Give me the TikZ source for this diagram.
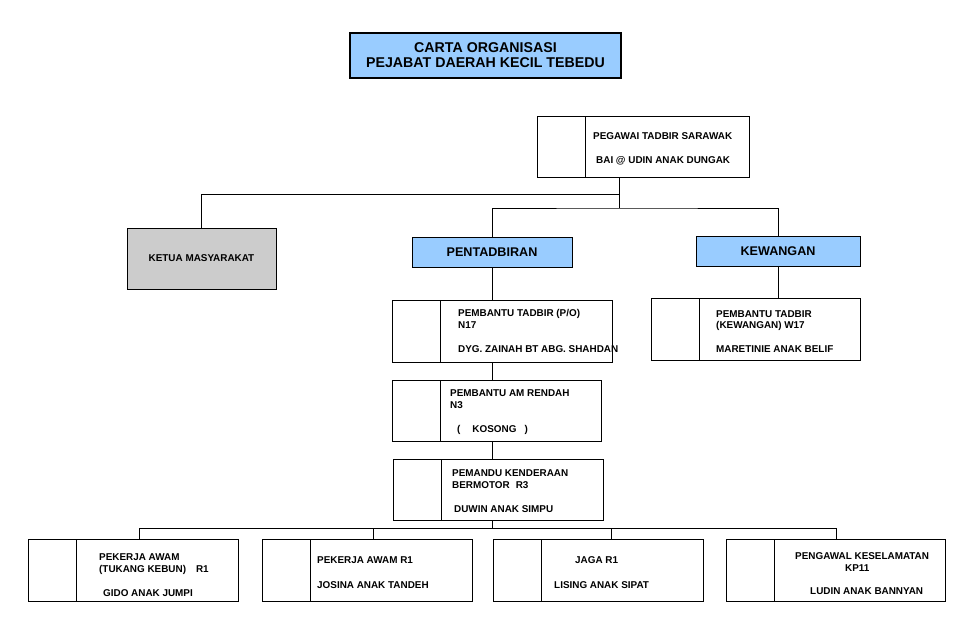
\documentclass[tikz,border=0pt]{standalone}
\usepackage{fontspec}
\setmainfont{Liberation Sans}
\usetikzlibrary{positioning,calc}
\definecolor{skyfill}{RGB}{153,204,255}
\definecolor{greyfill}{RGB}{204,204,204}

\begin{document}
\begin{tikzpicture}[
  x=1pt, y=-1pt,
  every node/.style={font=\fontsize{9.9}{11.8}\selectfont\bfseries},
  titlebox/.style={draw, fill=skyfill, line width=1.3pt, minimum width=271pt, minimum height=45pt, align=center, font=\fontsize{14.2}{15}\selectfont\bfseries},
  unitbox/.style={draw, fill=skyfill, line width=1pt, minimum height=30pt, font=\fontsize{12.6}{14}\selectfont\bfseries},
  headbox/.style={draw, fill=greyfill, line width=1pt, minimum width=149pt, minimum height=61pt},
  staffbox/.style={draw, line width=1pt, minimum width=210pt, minimum height=62pt,
    path picture={\draw[line width=1pt] ([xshift=48pt]path picture bounding box.north west) -- ([xshift=48pt]path picture bounding box.south west);}},
  stafftext/.style={anchor=base west, align=left, inner sep=0pt},
  link/.style={draw=black, line width=0.9pt}
]
  \useasboundingbox (0,0) rectangle (970,621);

  \node[titlebox] (title) at (485.5,55.5) {CARTA ORGANISASI\\PEJABAT DAERAH KECIL TEBEDU};

  % ketua jabatan
  \node[staffbox, minimum width=212pt, minimum height=61pt] (pts) at (643,146.5) {};
  \node[stafftext] (ptsT) at (593,163.3) {PEGAWAI TADBIR SARAWAK\\[12.5pt]\hspace*{3pt}BAI @ UDIN ANAK DUNGAK};

  \node[headbox] (ketua) at (201.5,258.5) {KETUA MASYARAKAT};
  \node[unitbox, minimum width=160pt] (pentad) at (492,252) {PENTADBIRAN};
  \node[unitbox, minimum width=164pt] (kewangan) at (778,251) {KEWANGAN};

  % pentadbiran
  \node[staffbox, minimum width=220pt] (po) at (502,331) {};
  \node[stafftext] (poT) at (458,352) {PEMBANTU TADBIR (P/O)\\N17\\[12pt]DYG. ZAINAH BT ABG. SHAHDAN};
  \node[staffbox, minimum width=209pt, minimum height=61pt] (par) at (496.5,410.5) {};
  \node[stafftext] (parT) at (450,432) {PEMBANTU AM RENDAH\\N3\\[12pt]\hspace*{7pt}(\hspace{12pt}KOSONG\hspace{8pt})};
  \node[staffbox, minimum height=61pt] (pemandu) at (498,489.5) {};
  \node[stafftext] (pemanduT) at (452,512.3) {PEMANDU KENDERAAN\\BERMOTOR\hspace{6pt}R3\\[12pt]\hspace*{2pt}DUWIN ANAK SIMPU};

  % kewangan
  \node[staffbox, minimum width=209pt] (kstaff) at (755.5,329.5) {};
  \node[stafftext] (kstaffT) at (716,352.7) {PEMBANTU TADBIR\\(KEWANGAN) W17\\[12pt]MARETINIE ANAK BELIF};

  % kumpulan sokongan
  \node[staffbox] (b1) at (133,570) {};
  \node[stafftext] (b1T) at (99,596) {PEKERJA AWAM\\(TUKANG KEBUN)\hspace{10pt}R1\\[12pt]\hspace*{4pt}GIDO ANAK JUMPI};
  \node[staffbox] (b2) at (367,570) {};
  \node[stafftext] (b2T) at (317,588) {PEKERJA AWAM R1\\[13pt]JOSINA ANAK TANDEH};
  \node[staffbox] (b3) at (598,570) {};
  \node[stafftext] (b3T) at (554,588) {\hspace*{21pt}JAGA R1\\[12.5pt]LISING ANAK SIPAT};
  \node[staffbox, minimum width=219pt] (b4) at (835.5,570) {};
  \node[stafftext] (b4T) at (795,594) {PENGAWAL KESELAMATAN\\\hspace*{50pt}KP11\\[11pt]\hspace*{15pt}LUDIN ANAK BANNYAN};

  % garisan
  \coordinate (hubA) at (619,194);
  \coordinate (hubB) at (619,208);
  \draw[link] (hubA |- pts.south) -- (hubB);
  \draw[link] (hubA) -| (ketua.north);
  \draw[link] (pentad.north) |- (hubB) -| (kewangan.north);
  \draw[link] (pentad.south) -- (pentad.south |- po.north);
  \draw[link] (pentad.south |- po.south) -- (pentad.south |- par.north);
  \draw[link] (pentad.south |- par.south) -- (pentad.south |- pemandu.north);
  \draw[link] (kewangan.south) -- (kewangan.south |- kstaff.north);

  \coordinate (railA) at (139,528);
  \coordinate (railB) at (373,528);
  \coordinate (railC) at (611,528);
  \coordinate (railD) at (836,528);
  \draw[link] (pentad.south |- pemandu.south) -- (pentad.south |- railA);
  \draw[link] (railA |- b1.north) -- (railA) -- (railD) -- (railD |- b4.north);
  \draw[link] (railB) -- (railB |- b2.north);
  \draw[link] (railC) -- (railC |- b3.north);
\end{tikzpicture}
\end{document}
